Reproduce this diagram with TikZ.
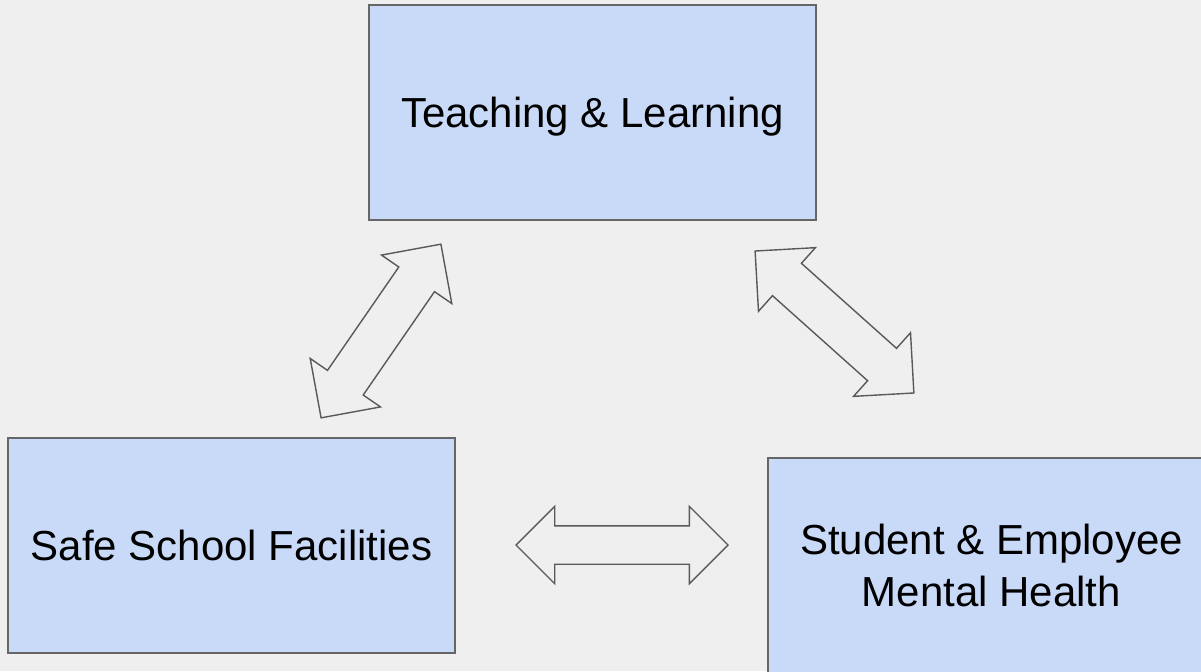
\documentclass[tikz,border=0pt]{standalone}
\usepackage{fontspec}
\setmainfont{Liberation Sans}
\usepackage{xcolor}
\usetikzlibrary{shapes.arrows, positioning}
\definecolor{bgcol}{HTML}{EFEFEF}
\definecolor{boxfill}{HTML}{C9DAF8}
\definecolor{boxline}{HTML}{666666}
\definecolor{arrline}{HTML}{595959}
\tikzset{
  area/.style={draw=boxline, fill=boxfill, line width=0.7pt, minimum width=223.5pt,
    minimum height=107.5pt, align=center, inner sep=0pt, text depth=0pt,
    font=\fontsize{21}{26}\selectfont},
  link/.style={double arrow, draw=arrline, line width=0.7pt, inner xsep=0pt,
    inner ysep=10.5pt, double arrow head extend=10.5pt}
}
\begin{document}
\begin{tikzpicture}[x=0.5pt, y=-0.5pt]
      \useasboundingbox[fill=bgcol] (0,0) rectangle (1201,671);

      \node[area] (teach) at (592.5,112.5) {Teaching \& Learning};
      \node[area] (safe) at (231.5,545.5) {Safe School Facilities};
      \node[area] (health) at (991.5,565.5) {Student \& Employee\\Mental Health};

      \node[link, minimum height=105.5pt, rotate=55.4] (safeteach) at (381,331) {};
      \node[link, minimum height=106.5pt, rotate=-41.8] (teachhealth) at (834.5,322) {};
      \node[link, minimum height=106pt, inner ysep=9.25pt, double arrow head extend=9.75pt] (safehealth) at (622,545) {};

    \end{tikzpicture}
\end{document}
